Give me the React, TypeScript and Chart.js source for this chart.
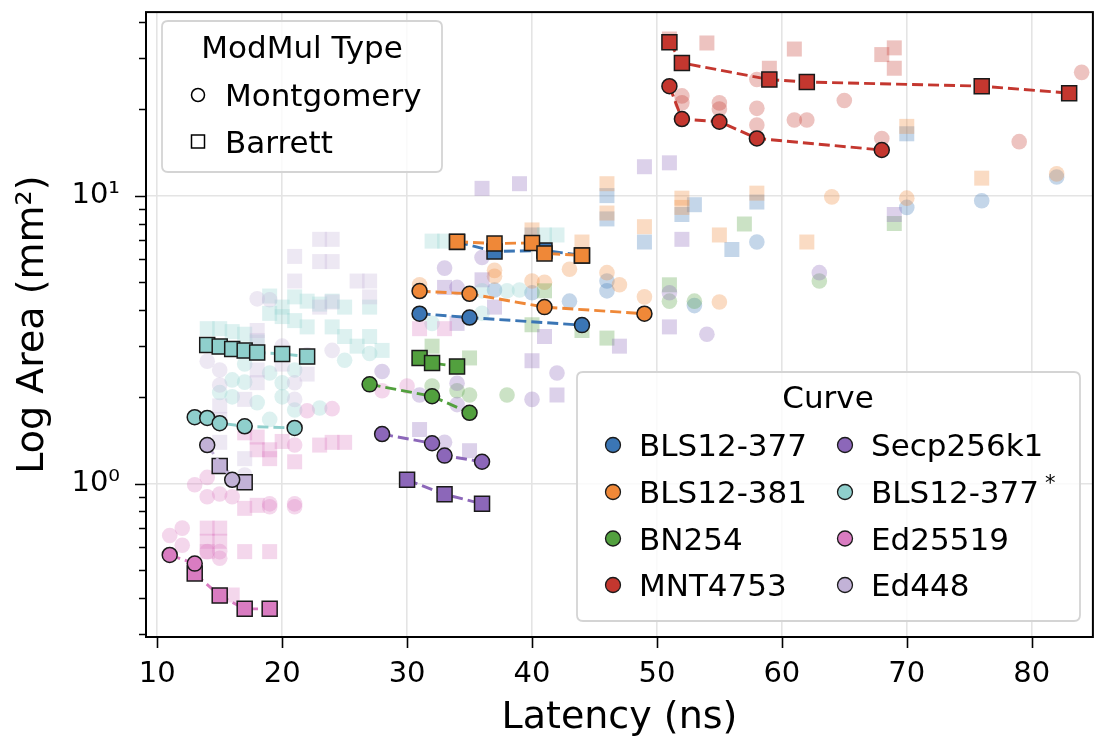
import React, { useEffect, useRef } from "react";
import { Chart, registerables } from "chart.js";

Chart.register(...registerables);

type P = [number, number];

// ---------- axis ticks ----------
const X_TICKS = [10, 20, 30, 40, 50, 60, 70, 80];
const Y_TICKS = [0.3, 0.4, 0.5, 0.6, 0.7, 0.8, 0.9, 1, 2, 3, 4, 5, 6, 7, 8, 9, 10, 20, 30, 40];
const Y_LABELS: Record<string, string> = { "1": "10⁰", "10": "10¹" };

// ---------- curves ----------
const CURVES = ["BLS12-377", "BLS12-381", "BN254", "MNT4753", "Secp256k1", "BLS12-377*", "Ed25519", "Ed448"];
const COLORS = ["#3b76b5", "#ef8838", "#52a03e", "#c4372f", "#8c67b9", "#8fcfcc", "#d97cc1", "#c2b2d7"];

// Pareto-front points (highlighted), [latency ns, area mm²]
const BLS377_MONT: P[] = [[31, 3.89], [35, 3.77], [44, 3.55]];
const BLS377_BARR: P[] = [[34, 6.9], [37, 6.4], [41, 6.45], [44, 6.2]];
const BLS381_MONT: P[] = [[31, 4.66], [35, 4.56], [41, 4.1], [49, 3.89]];
const BLS381_BARR: P[] = [[34, 6.92], [37, 6.82], [40, 6.85], [41, 6.3], [44, 6.2]];
const BN254_MONT: P[] = [[27, 2.21], [32, 2.01], [35, 1.76]];
const BN254_BARR: P[] = [[31, 2.73], [32, 2.62], [34, 2.55]];
const MNT_MONT: P[] = [[51, 24.0], [52, 18.45], [55, 18.06], [58, 15.8], [68, 14.4]];
const MNT_BARR: P[] = [[51, 34.1], [52, 28.9], [59, 25.3], [62, 24.8], [76, 24.0], [83, 22.7]];
const SECP_MONT: P[] = [[28, 1.485], [32, 1.38], [33, 1.25], [36, 1.19]];
const SECP_BARR: P[] = [[30, 1.03], [33, 0.917], [36, 0.85]];
const BLS377S_MONT: P[] = [[13, 1.7], [14, 1.69], [15, 1.62], [17, 1.58], [21, 1.56]];
const BLS377S_BARR: P[] = [[14, 3.03], [15, 2.99], [16, 2.93], [17, 2.9], [18, 2.85], [20, 2.82], [22, 2.76]];
const ED25519_MONT: P[] = [[11, 0.565], [13, 0.527]];
const ED25519_BARR: P[] = [[13, 0.487], [15, 0.408], [17, 0.367], [19, 0.367]];
const ED448_MONT: P[] = [[14, 1.36], [16, 1.03]];
const ED448_BARR: P[] = [[15, 1.15], [17, 1.01]];

// Dominated design points (faded)
const BLS377_MONT_ALT: P[] = [[37, 4.7], [40, 4.6], [43, 4.3], [46, 5.05], [46, 4.67], [53, 4.15], [58, 6.9], [70, 9.1], [76, 9.6], [82, 11.6]];
const BLS377_BARR_ALT: P[] = [[40, 7.3], [46, 10.0], [46, 8.3], [49, 6.9], [52, 8.6], [53, 9.3], [56, 6.5], [58, 9.5], [70, 16.4]];
const BLS381_MONT_ALT: P[] = [[31, 4.9], [37, 5.5], [37, 5.25], [40, 5.05], [41, 5.0], [43, 5.55], [46, 5.4], [47, 4.9], [49, 4.45], [55, 4.27], [64, 9.9], [70, 9.8], [82, 11.9]];
const BLS381_BARR_ALT: P[] = [[40, 7.6], [44, 6.9], [46, 11.0], [46, 8.7], [49, 7.8], [52, 9.8], [52, 9.1], [55, 7.3], [58, 10.2], [62, 6.9], [70, 17.4], [76, 11.5]];
const BN254_MONT_ALT: P[] = [[32, 2.18], [34, 2.1], [35, 2.03], [38, 2.03], [51, 4.3], [53, 4.3], [63, 5.05]];
const BN254_BARR_ALT: P[] = [[32, 3.0], [35, 2.73], [40, 3.56], [41, 4.67], [44, 3.4], [46, 3.2], [51, 4.9], [57, 7.97], [69, 8.0]];
const MNT_MONT_ALT: P[] = [[52, 22.2], [52, 21.0], [55, 21.0], [55, 20.0], [58, 20.1], [58, 17.6], [58, 25.3], [61, 18.3], [62, 18.3], [65, 21.4], [68, 15.8], [79, 15.4], [84, 26.8]];
const MNT_BARR_ALT: P[] = [[51, 35.0], [54, 33.9], [59, 27.7], [61, 32.3], [68, 30.9], [69, 32.6], [69, 27.7]];
const SECP_MONT_ALT: P[] = [[28, 2.45], [31, 2.03], [33, 1.39], [33, 5.6], [34, 4.8], [34, 2.23], [34, 1.88], [36, 6.1], [40, 1.96], [42, 2.42], [51, 4.6], [54, 3.3], [63, 5.4]];
const SECP_BARR_ALT: P[] = [[31, 1.54], [33, 4.8], [34, 3.6], [35, 1.3], [36, 5.1], [37, 4.1], [40, 2.67], [41, 3.24], [42, 2.03], [47, 3.0], [49, 12.6], [51, 13.0], [51, 3.5], [52, 7.05], [69, 8.6], [36, 10.6], [39, 11.0]];
const BLS377S_MONT_ALT: P[] = [[16, 2.29], [17, 2.25], [15, 2.07], [19, 2.42], [20, 2.24], [18, 1.91], [19, 1.67], [21, 2.48], [23, 1.83], [25, 2.68], [27, 2.83], [36, 4.67], [38, 4.67], [39, 4.7], [36, 3.9], [32, 3.6], [21, 1.8], [16, 2.0], [17, 2.6], [20, 2.0]];
const BLS377S_BARR_ALT: P[] = [[14, 3.45], [15, 3.45], [16, 3.37], [19, 4.48], [20, 3.8], [21, 3.68], [21, 4.45], [22, 4.3], [23, 4.2], [24, 4.3], [25, 4.1], [27, 4.1], [24, 3.5], [25, 3.24], [27, 3.24], [26, 3.0], [28, 2.9], [18, 3.1], [17, 3.3], [32, 6.95], [33, 6.95], [41, 7.3], [42, 7.3], [19, 3.9], [20, 4.1], [22, 3.5]];
const ED25519_MONT_ALT: P[] = [[13, 0.99], [14, 0.9], [15, 0.92], [14, 1.05], [19, 0.85], [19, 0.83], [21, 0.85], [21, 0.83], [12, 0.7], [11, 0.66], [12, 0.61], [15, 0.55], [15, 0.58], [22, 1.79], [24, 1.82], [21, 1.36], [28, 2.1], [30, 2.18], [14, 0.58], [16, 0.9]];
const ED25519_BARR_ALT: P[] = [[17, 0.82], [18, 0.84], [14, 0.7], [15, 0.7], [14, 0.63], [15, 0.63], [14, 0.58], [17, 0.58], [19, 0.58], [16, 0.41], [18, 1.31], [19, 1.31], [19, 1.22], [21, 1.19], [23, 1.36], [24, 1.39], [25, 1.39], [17, 1.5], [31, 3.45], [33, 3.45], [18, 1.45], [20, 1.4]];
const ED448_MONT_ALT: P[] = [[18, 4.38], [14, 2.66], [15, 2.48], [15, 2.2], [21, 2.24], [21, 1.96], [24, 2.9], [17, 1.07], [19, 4.35], [20, 3.0], [22, 2.8]];
const ED448_BARR_ALT: P[] = [[23, 7.05], [24, 7.05], [23, 5.9], [24, 5.9], [21, 6.15], [21, 5.05], [26, 5.05], [27, 5.05], [27, 4.45], [23, 4.1], [24, 4.27], [15, 1.86], [15, 1.67], [15, 1.39], [17, 1.22], [18, 3.4], [18, 3.14], [18, 2.48], [18, 2.24], [17, 1.96], [20, 2.6], [22, 2.4]];

const FRONT_MONT = [BLS377_MONT, BLS381_MONT, BN254_MONT, MNT_MONT, SECP_MONT, BLS377S_MONT, ED25519_MONT, ED448_MONT];
const FRONT_BARR = [BLS377_BARR, BLS381_BARR, BN254_BARR, MNT_BARR, SECP_BARR, BLS377S_BARR, ED25519_BARR, ED448_BARR];
const ALT_MONT = [BLS377_MONT_ALT, BLS381_MONT_ALT, BN254_MONT_ALT, MNT_MONT_ALT, SECP_MONT_ALT, BLS377S_MONT_ALT, ED25519_MONT_ALT, ED448_MONT_ALT];
const ALT_BARR = [BLS377_BARR_ALT, BLS381_BARR_ALT, BN254_BARR_ALT, MNT_BARR_ALT, SECP_BARR_ALT, BLS377S_BARR_ALT, ED25519_BARR_ALT, ED448_BARR_ALT];

const FONT = "'DejaVu Sans', sans-serif";

function rgba(hex: string, a: number) {
  const n = parseInt(hex.slice(1), 16);
  return `rgba(${(n >> 16) & 255},${(n >> 8) & 255},${n & 255},${a})`;
}

function roundRect(ctx: CanvasRenderingContext2D, x: number, y: number, w: number, h: number, r: number) {
  ctx.beginPath();
  ctx.moveTo(x + r, y);
  ctx.lineTo(x + w - r, y);
  ctx.quadraticCurveTo(x + w, y, x + w, y + r);
  ctx.lineTo(x + w, y + h - r);
  ctx.quadraticCurveTo(x + w, y + h, x + w - r, y + h);
  ctx.lineTo(x + r, y + h);
  ctx.quadraticCurveTo(x, y + h, x, y + h - r);
  ctx.lineTo(x, y + r);
  ctx.quadraticCurveTo(x, y, x + r, y);
  ctx.closePath();
}

const decorPlugin = {
  id: "decor",
  afterDraw(chart: any) {
    const { ctx, chartArea: a, scales } = chart;
    const xs = scales.x;
    const ys = scales.y;
    ctx.save();
    // tick marks
    ctx.strokeStyle = "#000";
    ctx.lineWidth = 1.6;
    ctx.beginPath();
    for (const v of X_TICKS) {
      const px = Math.round(xs.getPixelForValue(v)) + 0.5;
      ctx.moveTo(px, a.bottom);
      ctx.lineTo(px, a.bottom + 11);
    }
    for (const v of Y_TICKS) {
      const py = Math.round(ys.getPixelForValue(v)) + 0.5;
      const len = Y_LABELS[String(v)] ? 11 : 7;
      ctx.moveTo(a.left - len, py);
      ctx.lineTo(a.left, py);
    }
    ctx.stroke();
    // frame
    ctx.lineWidth = 2;
    ctx.strokeRect(a.left, a.top, a.right - a.left, a.bottom - a.top);

    // ---- ModMul legend ----
    roundRect(ctx, 162, 21, 280, 151, 6);
    ctx.fillStyle = "rgba(255,255,255,0.8)";
    ctx.fill();
    ctx.strokeStyle = "#d4d4d4";
    ctx.lineWidth = 1.8;
    ctx.stroke();
    ctx.fillStyle = "#000";
    ctx.font = `31px ${FONT}`;
    ctx.textBaseline = "alphabetic";
    ctx.textAlign = "center";
    ctx.fillText("ModMul Type", 302, 58);
    ctx.textAlign = "left";
    ctx.fillText("Montgomery", 225, 106);
    ctx.fillText("Barrett", 225, 153);
    ctx.strokeStyle = "#000";
    ctx.lineWidth = 1.5;
    ctx.beginPath();
    ctx.arc(198, 95, 6.5, 0, Math.PI * 2);
    ctx.stroke();
    ctx.strokeRect(191.5, 135, 13, 13);

    // ---- Curve legend ----
    roundRect(ctx, 577, 372, 503, 249, 6);
    ctx.fillStyle = "rgba(255,255,255,0.8)";
    ctx.fill();
    ctx.strokeStyle = "#d4d4d4";
    ctx.lineWidth = 1.8;
    ctx.stroke();
    ctx.fillStyle = "#000";
    ctx.textAlign = "center";
    ctx.font = `31px ${FONT}`;
    ctx.fillText("Curve", 828, 408);
    ctx.textAlign = "left";
    const rowsY = [445, 492, 538.5, 585];
    CURVES.forEach((name, i) => {
      const col = i < 4 ? 0 : 1;
      const row = i % 4;
      const mx = col === 0 ? 613 : 845;
      const tx = col === 0 ? 639 : 871;
      const my = rowsY[row];
      ctx.beginPath();
      ctx.arc(mx, my, 7.5, 0, Math.PI * 2);
      ctx.fillStyle = COLORS[i];
      ctx.fill();
      ctx.strokeStyle = "#1a1a1a";
      ctx.lineWidth = 1.3;
      ctx.stroke();
      ctx.fillStyle = "#000";
      ctx.font = `31px ${FONT}`;
      const base = name.endsWith("*") ? name.slice(0, -1) : name;
      ctx.fillText(base, tx, my + 11);
      if (name.endsWith("*")) {
        const w = ctx.measureText(base).width;
        ctx.font = `21px ${FONT}`;
        ctx.fillText("*", tx + w + 6, my - 2);
      }
    });
    ctx.restore();
  },
};

export default function App() {
  const ref = useRef<HTMLCanvasElement>(null);
  useEffect(() => {
    if (!ref.current) return;
    Chart.defaults.font.family = FONT;
    const toXY = (arr: P[]) => arr.map(([x, y]) => ({ x, y }));
    const front: any[] = [];
    const faded: any[] = [];
    CURVES.forEach((name, i) => {
      const c = COLORS[i];
      [
        { d: FRONT_MONT[i], style: "circle", r: 7.5 },
        { d: FRONT_BARR[i], style: "rect", r: 10.6 },
      ].forEach((s) =>
        front.push({
          label: name,
          data: toXY(s.d),
          showLine: true,
          borderColor: c,
          borderWidth: 2.9,
          borderDash: [11, 5],
          pointStyle: s.style,
          pointRadius: s.r,
          pointBackgroundColor: c,
          pointBorderColor: "#1a1a1a",
          pointBorderWidth: 1.5,
          // later curves drawn on top (lower order = on top)
          order: 20 - i,
        })
      );
      [
        { d: ALT_MONT[i], style: "circle", r: 7.8 },
        { d: ALT_BARR[i], style: "rect", r: 10.6 },
      ].forEach((s) =>
        faded.push({
          label: name,
          data: toXY(s.d),
          showLine: false,
          pointStyle: s.style,
          pointRadius: s.r,
          pointBackgroundColor: rgba(c, 0.3),
          pointBorderWidth: 0,
          order: 40 - i,
        })
      );
    });

    const chart = new Chart(ref.current, {
      type: "scatter",
      data: { datasets: [...front, ...faded] },
      options: {
        animation: false,
        responsive: false,
        devicePixelRatio: 1,
        events: [],
        layout: { padding: { top: 5, right: 7, left: 0, bottom: 0 } },
        plugins: { legend: { display: false }, tooltip: { enabled: false } },
        scales: {
          x: {
            type: "linear",
            min: 9.1,
            max: 84.9,
            afterBuildTicks: (s: any) => {
              s.ticks = X_TICKS.map((v) => ({ value: v }));
            },
            afterFit: (s: any) => {
              s.height = 105;
              s.paddingLeft = 0;
              s.paddingRight = 0;
            },
            border: { display: false },
            grid: { color: "#e4e4e4", lineWidth: 1.6, drawTicks: false },
            ticks: {
              autoSkip: false,
              maxRotation: 0,
              padding: 20,
              color: "#000",
              font: { size: 29 },
              callback: (v: any) => String(v),
            },
            title: {
              display: true,
              text: "Latency (ns)",
              color: "#000",
              font: { size: 38 },
              padding: { top: 0, bottom: 1 },
            },
          },
          y: {
            type: "logarithmic",
            min: 0.293,
            max: 43.4,
            afterBuildTicks: (s: any) => {
              s.ticks = Y_TICKS.map((v) => ({ value: v }));
            },
            afterFit: (s: any) => {
              s.width = 146;
              s.paddingTop = 0;
              s.paddingBottom = 0;
            },
            border: { display: false },
            grid: {
              drawTicks: false,
              lineWidth: 1.6,
              color: (ctx: any) => (ctx.tick && Y_LABELS[String(ctx.tick.value)] ? "#e4e4e4" : "rgba(0,0,0,0)"),
            },
            ticks: {
              autoSkip: false,
              padding: 26,
              color: "#000",
              font: { size: 29 },
              callback: (v: any) => Y_LABELS[String(v)] ?? null,
            },
            title: {
              display: true,
              text: "Log Area (mm²)",
              color: "#000",
              font: { size: 38 },
              padding: { top: 10, bottom: 0 },
            },
          },
        },
      },
      plugins: [decorPlugin],
    } as any);
    return () => chart.destroy();
  }, []);

  return (
    <div style={{ position: "absolute", left: 0, top: 0, width: 1105, height: 742, background: "#fff" }}>
      <canvas ref={ref} width={1105} height={742} style={{ width: 1105, height: 742 }} />
    </div>
  );
}
